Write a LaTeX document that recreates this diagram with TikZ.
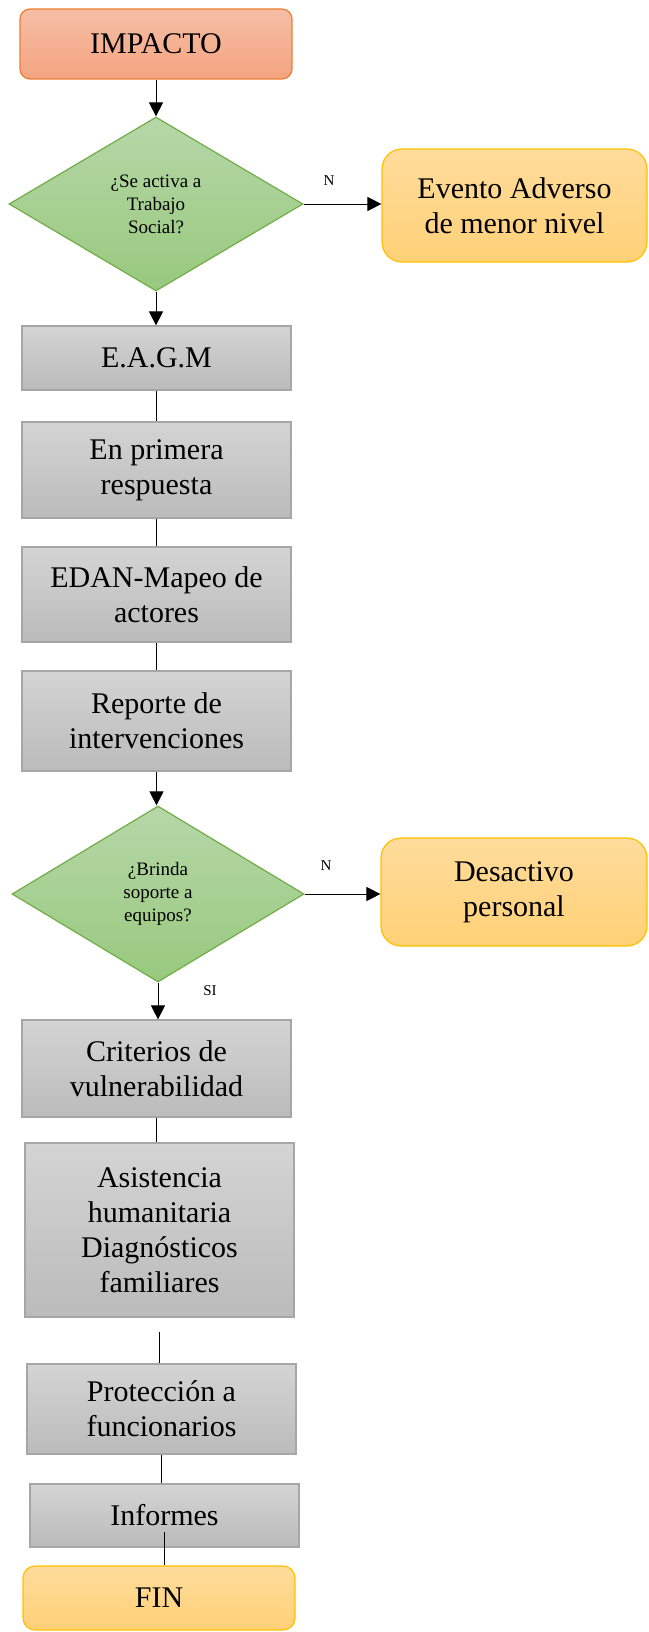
\documentclass[tikz,border=0pt]{standalone}
\usepackage{fontspec}
\setmainfont{Liberation Serif}
\usetikzlibrary{shapes.geometric,arrows.meta}
\definecolor{salmonA}{HTML}{F6BEA6}
\definecolor{salmonB}{HTML}{F4A480}
\definecolor{naranjaborde}{HTML}{ED7D31}
\definecolor{verdeA}{HTML}{B6D7A8}
\definecolor{verdeB}{HTML}{98C97E}
\definecolor{verdeborde}{HTML}{70AD47}
\definecolor{grisA}{HTML}{D4D4D4}
\definecolor{grisB}{HTML}{BBBBBB}
\definecolor{grisborde}{HTML}{A6A6A6}
\definecolor{amarilloA}{HTML}{FFDC9C}
\definecolor{amarilloB}{HTML}{FFD177}
\definecolor{amarilloborde}{HTML}{FFC000}
\tikzset{
  base/.style={font=\fontsize{15}{17.5}\selectfont, align=center, inner sep=2pt, line width=0.6pt},
  inicio/.style={base, rounded corners=5pt, draw=naranjaborde, top color=salmonA, bottom color=salmonB, minimum width=136pt, minimum height=35pt},
  proceso/.style={base, draw=grisborde, top color=grisA, bottom color=grisB, minimum width=134.5pt},
  salida/.style={base, rounded corners=10pt, draw=amarilloborde, top color=amarilloA, bottom color=amarilloB, minimum width=133pt},
  decision/.style={diamond, draw=verdeborde, line width=0.6pt, top color=verdeA, bottom color=verdeB, font=\fontsize{9.5}{11.5}\selectfont, align=center, inner sep=0pt, minimum width=147pt, minimum height=87pt},
  flecha/.style={-{Triangle[length=7pt,width=7pt]}, line width=0.5pt},
  linea/.style={line width=0.5pt},
  etiqueta/.style={font=\fontsize{7.5}{9}\selectfont}
}
\begin{document}
\begin{tikzpicture}[x=0.5pt,y=-0.5pt]
\useasboundingbox (0,0) rectangle (648,1632);
% nodos
\node[inicio] (impacto) at (156,44) {IMPACTO};
\node[decision] (q1) at (156,204) {¿Se activa a\\Trabajo\\Social?};
\node[salida, minimum width=132.5pt, minimum height=56.5pt] (evento) at (514.5,205.5) {Evento Adverso\\de menor nivel};
\node[proceso, minimum height=32pt] (eagm) at (156.5,358) {E.A.G.M};
\node[proceso, minimum height=48pt] (primera) at (156.5,470) {En primera\\respuesta};
\node[proceso, minimum height=47.5pt] (edan) at (156.5,594.5) {EDAN-Mapeo de\\actores};
\node[proceso, minimum height=50pt] (reporte) at (156.5,721) {Reporte de\\intervenciones};
\node[decision, minimum width=146pt, minimum height=88pt] (q2) at (158,894) {¿Brinda\\soporte a\\equipos?};
\node[salida, minimum width=133pt, minimum height=54pt] (desactivo) at (514,892) {Desactivo\\personal};
\node[proceso, minimum height=48.5pt] (criterios) at (156.5,1068.5) {Criterios de\\vulnerabilidad};
\node[proceso, minimum height=87pt] (asistencia) at (159.5,1230) {Asistencia\\humanitaria\\Diagnósticos\\familiares};
\node[proceso, minimum height=45pt] (proteccion) at (161.5,1409) {Protección a\\funcionarios};
\node[proceso, minimum height=31.5pt] (informes) at (164.5,1515.5) {Informes};
\node[salida, rounded corners=6pt, minimum width=136pt, minimum height=32pt] (fin) at (159,1598) {FIN};
% etiquetas
\node[etiqueta] (n1) at (329,181) {N};
\node[etiqueta] (n2) at (326,866) {N};
\node[etiqueta] (si) at (210,991) {SI};
% conectores
\draw[flecha] (impacto.south) -- (impacto.south |- q1.north);
\draw[flecha] (q1.east) -- (q1.east -| evento.west);
\draw[flecha] (q1.south) -- (q1.south |- eagm.north);
\draw[linea] (eagm.south) -- (eagm.south |- primera.north);
\draw[linea] (primera.south) -- (primera.south |- edan.north);
\draw[linea] (edan.south) -- (edan.south |- reporte.north);
\draw[flecha] (reporte.south) -- (reporte.south |- q2.north);
\draw[flecha] (q2.east) -- (q2.east -| desactivo.west);
\draw[flecha] (q2.south) -- (q2.south |- criterios.north);
\draw[linea] (criterios.south) -- (criterios.south |- asistencia.north);
\draw[linea] ([yshift=-7pt]asistencia.south) -- (asistencia.south |- proteccion.north);
\draw[linea] (proteccion.south) -- (proteccion.south |- informes.north);
\draw[linea] ([yshift=8pt]informes.south) -- (informes.south |- fin.north);
\end{tikzpicture}
\end{document}
